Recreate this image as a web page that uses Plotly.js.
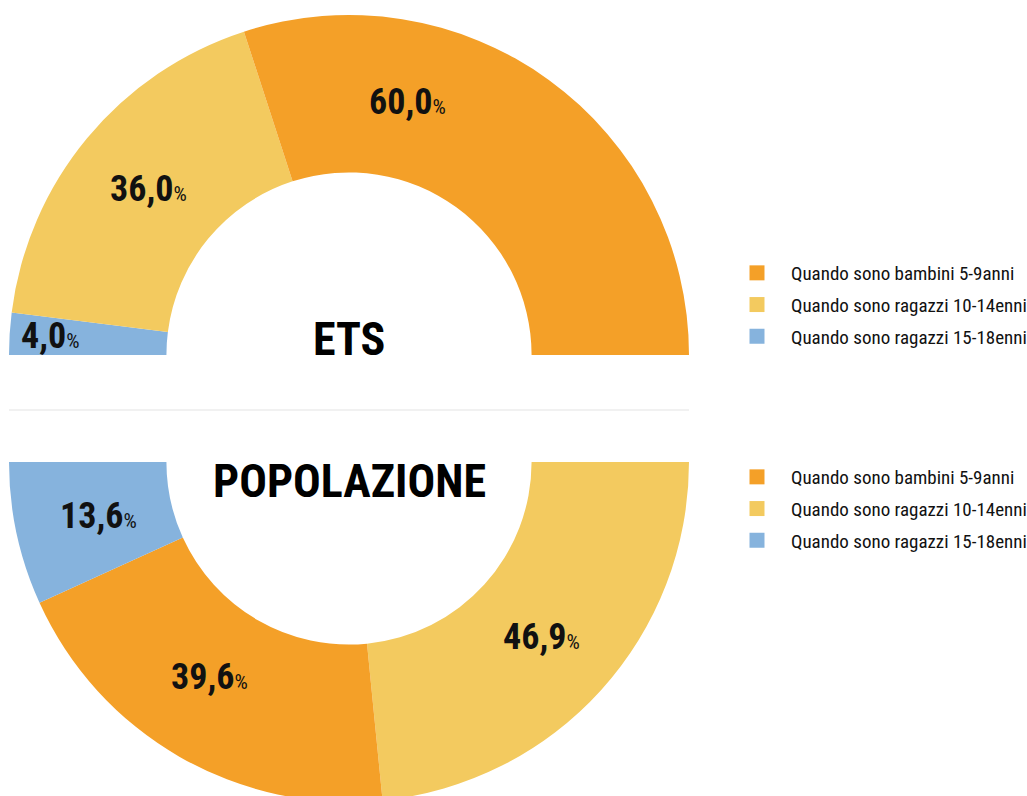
<!DOCTYPE html>
<html>
<head>
<meta charset="utf-8">
<script src="https://cdn.plot.ly/plotly-3.0.1.min.js"></script>
<style>
html, body { margin: 0; padding: 0; overflow: hidden; background: #ffffff; }
#chart { width: 1027px; height: 810px; }
</style>
</head>
<body>
<div id="chart"></div>
<script>
// ---- data ----
const categories = [
  'Quando sono bambini 5-9anni',
  'Quando sono ragazzi 10-14enni',
  'Quando sono ragazzi 15-18enni'
];
const etsValues = [60.0, 36.0, 4.0];
const popValues = [39.6, 46.9, 13.6];
const chartTitles = ['ETS', 'POPOLAZIONE'];

// ---- styles / layout config ----
const W = 1027, H = 810;
const colors = ['#F4A028', '#F3CA5F', '#86B3DD'];
const FONT = "'Roboto Condensed', 'Liberation Sans Narrow', 'DejaVu Sans Condensed', sans-serif";
// rotation: plotly degrees (0 = 12 o'clock, clockwise); slices drawn clockwise
const donuts = [
  { values: etsValues, order: [2, 1, 0], rotation: 270, cx: 349, cy: 355, r: 340,
    titleY: 339, legendTop: 254, labelAdjust: { 0: { angle: 77 }, 2: { rf: 0.88 } } },
  { values: popValues, order: [1, 0, 2], rotation: 90, cx: 349, cy: 462, r: 340,
    titleY: 481, legendTop: 458, labelAdjust: { 0: { angle: 237, rf: 0.755 }, 2: { rf: 0.755 } } }
];
const HOLE = 0.537;
const LABEL_RF = 0.765;

const data = [];
const annotations = [];
donuts.forEach((d, k) => {
  const vis = d.order.map(i => d.values[i]);
  const total = vis.reduce((a, b) => a + b, 0);
  data.push({
    type: 'pie',
    labels: d.order.map(i => categories[i]).concat(['__hidden__']),
    values: vis.concat([total]),
    marker: { colors: d.order.map(i => colors[i]).concat(['rgba(0,0,0,0)']), line: { width: 0 } },
    sort: false,
    direction: 'clockwise',
    rotation: d.rotation,
    hole: HOLE,
    textinfo: 'none',
    hoverinfo: 'none',
    showlegend: false,
    domain: {
      x: [(d.cx - d.r) / W, (d.cx + d.r) / W],
      y: [(H - (d.cy + d.r)) / H, (H - (d.cy - d.r)) / H]
    }
  });
  // slice labels, placed at each slice's mid angle
  const startAng = 90 - d.rotation; // math degrees
  let cum = 0;
  d.order.forEach(i => {
    const v = d.values[i];
    const frac = (cum + v / 2) / total;
    cum += v;
    let ang = startAng - frac * 180;
    let rf = LABEL_RF;
    const adj = d.labelAdjust[i];
    if (adj && adj.angle !== undefined) ang = adj.angle;
    if (adj && adj.rf !== undefined) rf = adj.rf;
    const rad = ang * Math.PI / 180;
    const px = d.cx + d.r * rf * Math.cos(rad);
    const py = d.cy - d.r * rf * Math.sin(rad);
    annotations.push({
      xref: 'paper', yref: 'paper', x: px / W, y: (H - py) / H,
      xanchor: 'center', yanchor: 'middle', showarrow: false,
      text: '<b>' + v.toFixed(1).replace('.', ',') + '</b><span style="font-size:21px">%</span>',
      font: { family: FONT, size: 36, color: '#111111' }
    });
  });
  // centre title
  annotations.push({
    xref: 'paper', yref: 'paper', x: d.cx / W, y: (H - d.titleY) / H,
    xanchor: 'center', yanchor: 'middle', showarrow: false,
    text: '<b>' + chartTitles[k] + '</b>',
    font: { family: FONT, size: 46, color: '#000000' }
  });
  // legend entries
  categories.forEach((c, i) => {
    data.push({
      type: 'scatter', mode: 'markers', x: [null], y: [null],
      name: c, legend: k === 0 ? 'legend' : 'legend2', legendgroup: 'g' + k + '_' + i,
      marker: { symbol: 'square', size: 15, color: colors[i], line: { width: 0 } },
      hoverinfo: 'none'
    });
  });
});

const legendBase = {
  xref: 'container', yref: 'container',
  xanchor: 'left', yanchor: 'top', bgcolor: 'rgba(0,0,0,0)',
  font: { family: FONT, size: 19, color: '#111111' },
  tracegroupgap: 4, itemwidth: 58, traceorder: 'grouped'
};

const layout = {
  width: W, height: H,
  margin: { l: 0, r: 0, t: 0, b: 0, autoexpand: false },
  paper_bgcolor: '#ffffff', plot_bgcolor: 'rgba(0,0,0,0)',
  xaxis: { visible: false }, yaxis: { visible: false },
  showlegend: true,
  legend: Object.assign({}, legendBase, { x: 723 / W, y: (H - donuts[0].legendTop) / H }),
  legend2: Object.assign({}, legendBase, { x: 723 / W, y: (H - donuts[1].legendTop) / H }),
  annotations: annotations,
  shapes: [{
    type: 'line', xref: 'paper', yref: 'paper',
    x0: 9 / W, x1: 689 / W, y0: (H - 410) / H, y1: (H - 410) / H,
    line: { color: '#e3e3e3', width: 1 }
  }]
};

Plotly.newPlot('chart', data, layout, { displayModeBar: false, staticPlot: true });
</script>
</body>
</html>
